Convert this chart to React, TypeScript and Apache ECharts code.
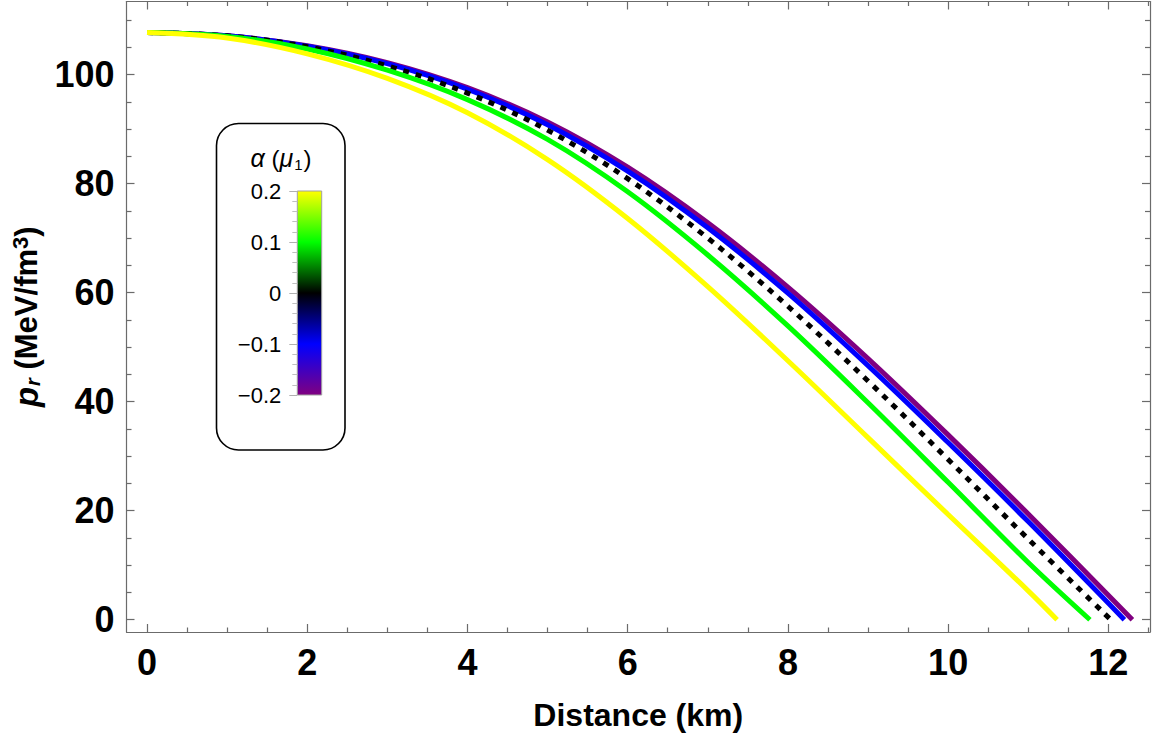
import React, { useEffect, useRef } from "react";
import * as echarts from "echarts";

// ---- Data (distance in km, p_r in MeV/fm^3) ----
const X_PURPLE = [0, 1, 2, 3, 4, 5, 6, 7, 8, 9, 10, 11, 12.3];
const P_PURPLE = [107.7, 107.1, 105.3, 102.2, 97.6, 91.3, 83.0, 72.8, 61.0, 47.9, 33.9, 19.4, 0];

const X_BLUE = [0, 1, 2, 3, 4, 5, 6, 7, 8, 9, 10, 11, 12.2];
const P_BLUE = [107.7, 107.1, 105.2, 102.0, 97.3, 90.8, 82.3, 71.9, 59.9, 46.6, 32.5, 18.0, 0];

const X_BLACK = [0, 1, 2, 3, 4, 5, 6, 7, 8, 9, 10, 11, 12.03];
const P_BLACK = [107.7, 107.1, 105.1, 101.6, 96.6, 89.8, 80.9, 70.0, 57.5, 43.8, 29.4, 14.8, 0];

const X_GREEN = [0, 1, 2, 3, 4, 5, 6, 7, 8, 9, 10, 11, 11.77];
const P_GREEN = [107.7, 107.0, 104.7, 100.8, 95.4, 88.1, 78.5, 66.9, 53.9, 39.8, 25.2, 10.5, 0];

const X_YELLOW = [0, 1, 2, 3, 4, 5, 6, 7, 8, 9, 10, 11, 11.36];
const P_YELLOW = [107.7, 106.7, 103.8, 99.3, 93.0, 84.4, 73.6, 61.1, 47.5, 33.4, 19.3, 5.3, 0];

const X_MAJOR_TICKS = [0, 2, 4, 6, 8, 10, 12];
const X_MINOR_TICKS = [0.5, 1, 1.5, 2.5, 3, 3.5, 4.5, 5, 5.5, 6.5, 7, 7.5, 8.5, 9, 9.5, 10.5, 11, 11.5, 12.5];
const Y_MAJOR_TICKS = [0, 20, 40, 60, 80, 100];
const Y_MINOR_TICKS = [5, 10, 15, 25, 30, 35, 45, 50, 55, 65, 70, 75, 85, 90, 95, 105, 110];

const ALPHA_MIN = -0.2;
const ALPHA_MAX = 0.2;
const ALPHA_STEP = 0.1;

const X_MIN = -0.256;
const X_MAX = 12.52;
const Y_MIN = -2.25;
const Y_MAX = 113.4;

const FONT = "'Liberation Sans', Arial, sans-serif";
const AXIS_GRAY = "#6b6b6b";

const SERIES_DEFS = [
  { name: "α = −0.2", xs: X_PURPLE, ys: P_PURPLE, color: "#800080", dashed: false },
  { name: "α = −0.1", xs: X_BLUE, ys: P_BLUE, color: "#0000ff", dashed: false },
  { name: "α = 0", xs: X_BLACK, ys: P_BLACK, color: "#000000", dashed: true },
  { name: "α = 0.1", xs: X_GREEN, ys: P_GREEN, color: "#00ff00", dashed: false },
  { name: "α = 0.2", xs: X_YELLOW, ys: P_YELLOW, color: "#ffff00", dashed: false },
];

function xAxisDef(position: "top" | "bottom", ticks: number[], len: number, major: boolean, showLabels: boolean) {
  return {
    type: "value",
    gridIndex: 0,
    min: X_MIN,
    max: X_MAX,
    position,
    axisLine: { show: major, onZero: false, lineStyle: { color: AXIS_GRAY, width: 1.2 } },
    axisTick: { show: true, inside: true, length: len, customValues: ticks, lineStyle: { color: AXIS_GRAY, width: 1.2 } },
    axisLabel: showLabels
      ? { show: true, customValues: ticks, fontSize: 36, fontWeight: "bold", color: "#000", fontFamily: FONT, margin: 12 }
      : { show: false },
    splitLine: { show: false },
    ...(showLabels
      ? {
          name: "Distance (km)",
          nameLocation: "middle",
          nameGap: 67,
          nameTextStyle: { fontSize: 32, fontWeight: "bold", color: "#000", fontFamily: FONT },
        }
      : {}),
  };
}

function yAxisDef(position: "left" | "right", ticks: number[], len: number, major: boolean, showLabels: boolean) {
  return {
    type: "value",
    gridIndex: 0,
    min: Y_MIN,
    max: Y_MAX,
    position,
    axisLine: { show: major, onZero: false, lineStyle: { color: AXIS_GRAY, width: 1.2 } },
    axisTick: { show: true, inside: true, length: len, customValues: ticks, lineStyle: { color: AXIS_GRAY, width: 1.2 } },
    axisLabel: showLabels
      ? { show: true, customValues: ticks, fontSize: 36, fontWeight: "bold", color: "#000", fontFamily: FONT, margin: 12 }
      : { show: false },
    splitLine: { show: false },
    ...(showLabels
      ? {
          name: "{i|p}{sub|r} (MeV/fm{sup|3})",
          nameLocation: "middle",
          nameGap: 84,
          nameRotate: 90,
          nameTextStyle: {
            fontSize: 31,
            fontWeight: "bold",
            color: "#000",
            fontFamily: FONT,
            rich: {
              i: { fontSize: 33, fontStyle: "italic", fontWeight: "bold", fontFamily: FONT, color: "#000" },
              sub: { fontSize: 20, fontStyle: "italic", fontWeight: "bold", fontFamily: FONT, color: "#000", verticalAlign: "bottom", padding: [12, 0, 0, 1] },
              sup: { fontSize: 22, fontWeight: "bold", fontFamily: FONT, color: "#000", verticalAlign: "top", padding: [0, 0, 10, 0] },
            },
          },
        }
      : {}),
  };
}

export default function App() {
  const ref = useRef<HTMLDivElement>(null);

  useEffect(() => {
    if (!ref.current) return;
    const chart = echarts.init(ref.current, undefined, { renderer: "svg" });

    const series = SERIES_DEFS.map((d) => ({
      name: d.name,
      type: "line",
      xAxisIndex: 0,
      yAxisIndex: 0,
      data: d.xs.map((x, i) => [x, d.ys[i]]),
      showSymbol: false,
      smooth: 0.35,
      lineStyle: {
        color: d.color,
        width: 5,
        type: d.dashed ? [6, 7] : "solid",
        cap: "butt",
      },
      itemStyle: { color: d.color },
      emphasis: { disabled: true },
      silent: true,
    }));

    const cbLeft = 297.3;
    const cbTop = 191;
    const cbWidth = 24.4;
    const cbHeight = 204;

    const option: any = {
      animation: false,
      backgroundColor: "#ffffff",
      grid: [
        { left: 126.5, right: 2, top: 1.5, bottom: 101.7, containLabel: false },
        { left: cbLeft, top: cbTop, width: cbWidth, height: cbHeight, containLabel: false, z: 10 },
      ],
      xAxis: [
        xAxisDef("bottom", X_MAJOR_TICKS, 8, true, true),
        xAxisDef("top", X_MAJOR_TICKS, 8, true, false),
        xAxisDef("bottom", X_MINOR_TICKS, 4.5, false, false),
        xAxisDef("top", X_MINOR_TICKS, 4.5, false, false),
        { type: "value", gridIndex: 1, min: 0, max: 1, show: false },
      ],
      yAxis: [
        yAxisDef("left", Y_MAJOR_TICKS, 8, true, true),
        yAxisDef("right", Y_MAJOR_TICKS, 8, true, false),
        yAxisDef("left", Y_MINOR_TICKS, 5, false, false),
        yAxisDef("right", Y_MINOR_TICKS, 5, false, false),
        {
          type: "value",
          gridIndex: 1,
          min: ALPHA_MIN,
          max: ALPHA_MAX,
          interval: ALPHA_STEP,
          position: "left",
          z: 10,
          axisLine: { show: false },
          axisTick: { show: true, inside: false, length: 8, lineStyle: { color: "#b0b0b0", width: 1 } },
          minorTick: { show: true, splitNumber: 5, length: 5, lineStyle: { color: "#c0c0c0", width: 1 } },
          axisLabel: {
            fontSize: 22,
            color: "#000",
            fontFamily: FONT,
            margin: 16,
            formatter: (v: number) => {
              const r = Math.round(v * 10) / 10;
              if (r === 0) return "0";
              return r < 0 ? "\u2212" + Math.abs(r).toFixed(1) : r.toFixed(1);
            },
          },
          splitLine: { show: false },
          minorSplitLine: { show: false },
        },
      ],
      graphic: [
        {
          type: "rect",
          z: 1,
          shape: { x: 216.5, y: 123.5, width: 128.5, height: 326.5, r: 22 },
          style: { fill: "#ffffff", stroke: "#000000", lineWidth: 1.6 },
          silent: true,
        },
        {
          type: "rect",
          z: 5,
          shape: { x: cbLeft, y: cbTop, width: cbWidth, height: cbHeight },
          style: {
            fill: {
              type: "linear",
              x: 0,
              y: 0,
              x2: 0,
              y2: 1,
              colorStops: [
                { offset: 0, color: "#ffff00" },
                { offset: 0.25, color: "#00ff00" },
                { offset: 0.5, color: "#000000" },
                { offset: 0.75, color: "#0000ff" },
                { offset: 1, color: "#800080" },
              ],
            },
            stroke: "#a0a0a0",
            lineWidth: 1,
          },
          silent: true,
        },
        {
          type: "text",
          z: 5,
          x: 281,
          y: 158,
          style: {
            text: "{i|α} {n|(}{i|μ}{s|1}{n|)}",
            fontSize: 24,
            fontFamily: FONT,
            fill: "#000",
            align: "center",
            verticalAlign: "middle",
            rich: {
              n: { fontSize: 24, fontFamily: FONT, fill: "#000" },
              i: { fontSize: 25, fontStyle: "italic", fontFamily: FONT, fill: "#000" },
              s: { fontSize: 15, fontFamily: FONT, fill: "#000", verticalAlign: "bottom", padding: [12, 1, 0, 1] },
            },
          },
          silent: true,
        },
      ],
      series,
    };

    chart.setOption(option);
    return () => {
      chart.dispose();
    };
  }, []);

  return (
    <div
      ref={ref}
      style={{ position: "fixed", left: 0, top: 0, width: 1152, height: 736, background: "#fff" }}
    />
  );
}
